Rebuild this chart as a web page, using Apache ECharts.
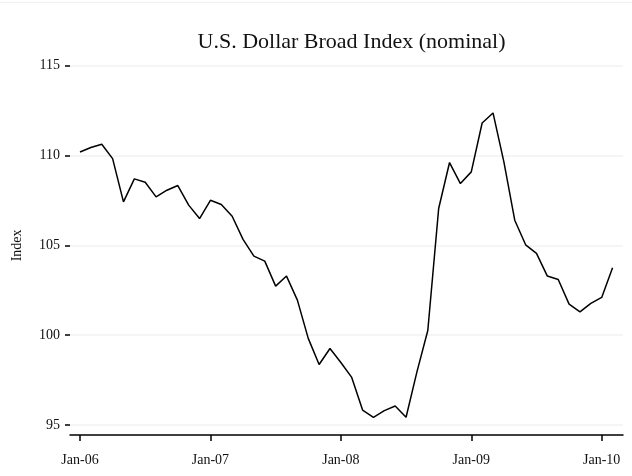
<!DOCTYPE html>
<html>
<head>
<meta charset="utf-8">
<script src="https://cdn.jsdelivr.net/npm/echarts@6/dist/echarts.min.js"></script>
<style>html,body{margin:0;padding:0;background:#fff}#c{width:632px;height:476px}</style>
</head>
<body>
<div id="c"></div>
<script>
var months = ['2006-01','2006-02','2006-03','2006-04','2006-05','2006-06','2006-07','2006-08','2006-09','2006-10','2006-11','2006-12',
'2007-01','2007-02','2007-03','2007-04','2007-05','2007-06','2007-07','2007-08','2007-09','2007-10','2007-11','2007-12',
'2008-01','2008-02','2008-03','2008-04','2008-05','2008-06','2008-07','2008-08','2008-09','2008-10','2008-11','2008-12',
'2009-01','2009-02','2009-03','2009-04','2009-05','2009-06','2009-07','2009-08','2009-09','2009-10','2009-11','2009-12',
'2010-01','2010-02'];
var indexValues = [110.2,110.45,110.63,109.83,107.42,108.7,108.51,107.7,108.07,108.33,107.24,106.49,
107.51,107.27,106.62,105.33,104.4,104.12,102.73,103.29,101.95,99.82,98.37,99.26,
98.48,97.65,95.83,95.43,95.8,96.06,95.43,97.96,100.26,107.05,109.61,108.44,
109.09,111.81,112.37,109.65,106.4,105.03,104.55,103.29,103.1,101.73,101.3,101.77,
102.1,103.75];
var yTicks = [95,100,105,110,115];
var xTickYears = [2006,2007,2008,2009,2010];
var titleText = 'U.S. Dollar Broad Index (nominal)';
var yName = 'Index';

function toYear(m){ var p = m.split('-'); return +p[0] + (+p[1]-1)/12; }
var seriesData = months.map(function(m,i){ return [toYear(m), indexValues[i]]; });

var FONT = '"Liberation Serif", "DejaVu Serif", serif';
var chart = echarts.init(document.getElementById('c'), null, {renderer:'canvas'});
chart.setOption({
  backgroundColor:'#fff',
  animation:false,
  title:{text:titleText, left:346.5, textAlign:'center', top:26,
    textStyle:{fontFamily:FONT, fontSize:22, fontWeight:'normal', color:'#111'}},
  graphic:[{type:'line', shape:{x1:0,y1:2.5,x2:632,y2:2.5}, style:{stroke:'#eef2f2', lineWidth:1}}],
  grid:[
    {left:70, right:9, top:65.7, bottom:51, containLabel:false, outerBoundsMode:'none'},
    {left:80, right:30.3, top:65.7, bottom:51, containLabel:false, outerBoundsMode:'none'}
  ],
  xAxis:[
    {type:'value', gridIndex:0, min:2005.9233, max:2010.1633, offset:10,
     axisLine:{show:true, lineStyle:{color:'#000', width:1.5}},
     axisTick:{show:false}, axisLabel:{show:false}, splitLine:{show:false}},
    {type:'value', gridIndex:1, min:xTickYears[0], max:xTickYears[xTickYears.length-1], interval:1, offset:10,
     axisLine:{show:false},
     axisTick:{show:true, length:6, lineStyle:{color:'#000', width:1.5}},
     axisLabel:{show:true, margin:18, fontFamily:FONT, fontSize:14, color:'#111',
       formatter:function(v){ return 'Jan-' + String(v).slice(2); }},
     splitLine:{show:false}}
  ],
  yAxis:[
    {type:'value', gridIndex:0, min:yTicks[0], max:yTicks[yTicks.length-1], interval:5,
     name:yName, nameLocation:'middle', nameGap:46, nameRotate:90,
     nameTextStyle:{fontFamily:FONT, fontSize:14, color:'#111'},
     axisLine:{show:false},
     axisTick:{show:true, length:5, inside:false, lineStyle:{color:'#000', width:1.5}},
     axisLabel:{margin:10, fontFamily:FONT, fontSize:14, color:'#111'},
     splitLine:{show:true, lineStyle:{color:'#eef3f2', width:1.5}}},
    {type:'value', gridIndex:1, show:false, min:95, max:115}
  ],
  series:[{
    type:'line', xAxisIndex:0, yAxisIndex:0, data:seriesData,
    showSymbol:false, symbol:'none',
    lineStyle:{color:'#000', width:1.5}
  }]
});
</script>
</body>
</html>
